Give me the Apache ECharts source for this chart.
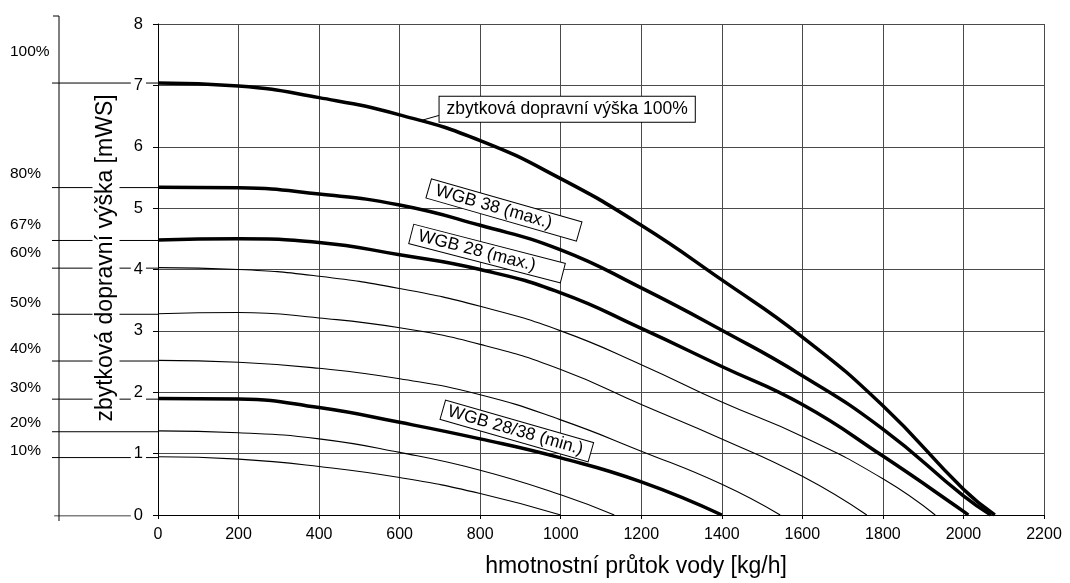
<!DOCTYPE html>
<html>
<head>
<meta charset="utf-8">
<script src="https://cdn.jsdelivr.net/npm/echarts@6/dist/echarts.min.js"></script>
<style>
  html, body { margin: 0; padding: 0; background: #fff; }
  #chart { width: 1070px; height: 583px; }
</style>
</head>
<body>
<div id="chart"></div>
<script>
// prutok [kg/h] v krocich po 200
const flowSteps = [0, 200, 400, 600, 800, 1000, 1200, 1400, 1600, 1800, 2000];

// zbytkova dopravni vyska [mWS] pro jednotlive stupne cerpadla
const head100 = [7.04, 6.99, 6.80, 6.52, 6.10, 5.48, 4.72, 3.83, 2.90, 1.78, 0.42];
const head80 = [5.34, 5.33, 5.23, 5.05, 4.72, 4.32, 3.70, 3.01, 2.27, 1.40, 0.31];
const head67 = [4.48, 4.50, 4.44, 4.24, 4.00, 3.62, 3.04, 2.42, 1.80, 0.96, 0.06];
const head60 = [4.03, 4.00, 3.89, 3.69, 3.40, 3.00, 2.45, 1.84, 1.28, 0.59];
const head50 = [3.28, 3.30, 3.21, 3.05, 2.78, 2.37, 1.80, 1.24, 0.63];
const head40 = [2.52, 2.49, 2.39, 2.22, 1.96, 1.55, 1.04, 0.50];
const head30 = [1.90, 1.89, 1.75, 1.51, 1.24, 0.93, 0.54];
const head20 = [1.37, 1.34, 1.24, 1.02, 0.73, 0.33];
const head10 = [0.95, 0.91, 0.79, 0.61, 0.35];

// prutok pri nulove vysce
const zeroFlow = [2078, 2068, 2012, 1930, 1760, 1545, 1400, 1133, 1000];

const levelNames = ["100%", "80%", "67%", "60%", "50%", "40%", "30%", "20%", "10%"];
const heads = [head100, head80, head67, head60, head50, head40, head30, head20, head10];
const thickLevels = ["100%", "80%", "67%", "30%"];

const xTicks = { min: 0, max: 2200, step: 200 };
const yTicks = { min: 0, max: 8, step: 1 };

// jak vysoko nad carou je popisek procent (px)
const pctLabelRise = [31, 14, 16, 15, 12, 12, 11, 9, 7];

const font = "'Liberation Sans', Arial, sans-serif";

function curveData(i) {
  const pts = heads[i].map((h, k) => [flowSteps[k], h]);
  pts.push([zeroFlow[i], 0]);
  return pts;
}

const chart = echarts.init(document.getElementById("chart"));

const curveSeries = levelNames.map((name, i) => ({
  name: name,
  type: "line",
  xAxisIndex: 0,
  yAxisIndex: 0,
  data: curveData(i),
  smooth: 0.5,
  symbol: "none",
  silent: true,
  lineStyle: {
    color: "#000",
    width: thickLevels.includes(name) ? 3.5 : 1.1,
  },
}));

const boxLabel = {
  show: true,
  position: "inside",
  color: "#000",
  fontFamily: font,
  fontSize: 17.5,
  backgroundColor: "#fff",
  borderColor: "#000",
  borderWidth: 1,
};

// popisky krivek
curveSeries[0].markPoint = {
  symbol: "rect",
  symbolSize: 0,
  silent: true,
  data: [
    {
      coord: [1016, 6.61],
      label: Object.assign({}, boxLabel, {
        formatter: "zbytková dopravní výška 100%",
        padding: [4, 7, 3, 7],
      }),
    },
  ],
};
curveSeries[0].markLine = {
  symbol: ["none", "none"],
  silent: true,
  label: { show: false },
  lineStyle: { color: "#000", width: 1, type: "solid" },
  data: [[{ coord: [649, 6.42] }, { coord: [703, 6.52] }]],
};
curveSeries[1].markPoint = {
  symbol: "rect",
  symbolSize: 0,
  silent: true,
  data: [
    {
      coord: [859, 4.97],
      label: Object.assign({}, boxLabel, {
        formatter: "WGB 38 (max.)",
        rotate: -16,
        padding: [1, 28, 0, 7],
      }),
    },
  ],
};
curveSeries[2].markPoint = {
  symbol: "rect",
  symbolSize: 0,
  silent: true,
  data: [
    {
      coord: [817, 4.26],
      label: Object.assign({}, boxLabel, {
        formatter: "WGB 28 (max.)",
        rotate: -14.5,
        padding: [1, 28, 0, 7],
      }),
    },
  ],
};
curveSeries[6].markPoint = {
  symbol: "rect",
  symbolSize: 0,
  silent: true,
  data: [
    {
      coord: [891, 1.37],
      label: Object.assign({}, boxLabel, {
        formatter: "WGB 28/38 (min.)",
        rotate: -16,
        padding: [1, 8, 0, 5],
      }),
    },
  ],
};

// vodorovne cary procent na leve ose
const pctSeries = levelNames.map((name, i) => ({
  type: "line",
  xAxisIndex: 1,
  yAxisIndex: 1,
  z: -1,
  silent: true,
  symbol: "circle",
  symbolSize: 0.1,
  showSymbol: true,
  lineStyle: { color: "#000", width: 1 },
  itemStyle: { color: "#000" },
  label: { show: false },
  data: [
    {
      value: [0, heads[i][0]],
      label: {
        show: true,
        formatter: name,
        position: [-42, -pctLabelRise[i]],
        align: "left",
        verticalAlign: "middle",
        color: "#000",
        fontFamily: font,
        fontSize: 15.5,
      },
    },
    [1, heads[i][0]],
  ],
}));
pctSeries.push({
  type: "line",
  xAxisIndex: 1,
  yAxisIndex: 1,
  z: -1,
  silent: true,
  symbol: "none",
  lineStyle: { color: "#000", width: 1 },
  data: [[0.02, 0], [0.75, 0]],
});

const option = {
  animation: false,
  backgroundColor: "#fff",
  grid: [
    { left: 158, right: 26, top: 24, bottom: 67 },
    { left: 52, width: 106, top: 24, bottom: 67 },
  ],
  xAxis: [
    {
      type: "value",
      gridIndex: 0,
      min: xTicks.min,
      max: xTicks.max,
      interval: xTicks.step,
      name: "hmotnostní průtok vody [kg/h]",
      nameLocation: "middle",
      nameGap: 40,
      nameTextStyle: {
        color: "#000",
        fontFamily: font,
        fontSize: 23,
        padding: [0, 0, 0, 70],
      },
      axisLine: { lineStyle: { color: "#000", width: 1 } },
      axisTick: { show: true, length: 4, lineStyle: { color: "#000" } },
      axisLabel: {
        color: "#000",
        fontFamily: font,
        fontSize: 16,
        margin: 12,
        formatter: (v) => String(v),
      },
      splitLine: { show: true, lineStyle: { color: "#4a4a4a", width: 1 } },
    },
    { type: "value", gridIndex: 1, min: 0, max: 1, show: false },
  ],
  yAxis: [
    {
      type: "value",
      gridIndex: 0,
      min: yTicks.min,
      max: yTicks.max,
      interval: yTicks.step,
      axisLine: { show: true, lineStyle: { color: "#000", width: 1 } },
      axisTick: { show: true, length: 5, lineStyle: { color: "#000" } },
      axisLabel: {
        color: "#000",
        fontFamily: font,
        fontSize: 16.5,
        margin: 12,
        backgroundColor: "#fff",
        padding: [0, 3],
      },
      splitLine: { show: true, lineStyle: { color: "#4a4a4a", width: 1 } },
    },
    {
      type: "value",
      gridIndex: 1,
      min: yTicks.min,
      max: yTicks.max,
      show: false,
    },
  ],
  graphic: [
    {
      type: "line",
      silent: true,
      shape: { x1: 59, y1: 16, x2: 59, y2: 521 },
      style: { stroke: "#000", lineWidth: 1 },
    },
    {
      type: "line",
      silent: true,
      shape: { x1: 53, y1: 16, x2: 59, y2: 16 },
      style: { stroke: "#000", lineWidth: 1 },
    },
    {
      type: "text",
      silent: true,
      x: 106,
      y: 258,
      rotation: Math.PI / 2,
      style: {
        text: "zbytková dopravní výška [mWS]",
        fill: "#000",
        font: "23px " + font,
        align: "center",
        verticalAlign: "middle",
        backgroundColor: "#fff",
        padding: [2, 0],
      },
    },
  ],
  series: curveSeries.concat(pctSeries),
};

chart.setOption(option);
</script>
</body>
</html>
